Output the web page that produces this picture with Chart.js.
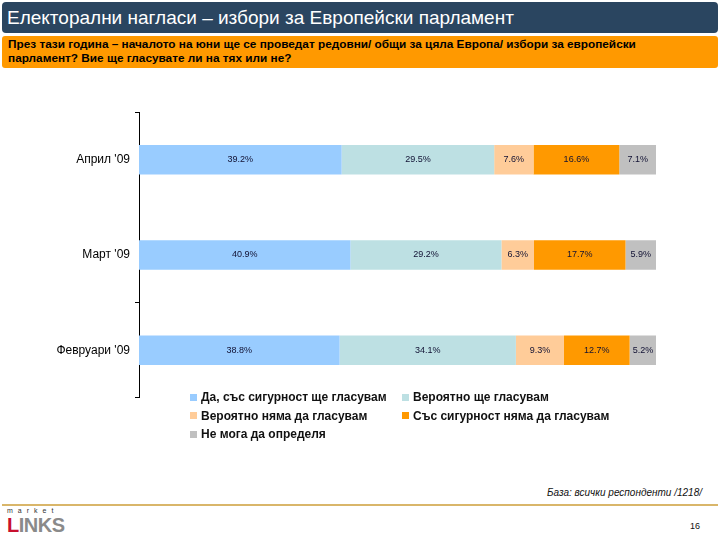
<!DOCTYPE html>
<html>
<head>
<meta charset="utf-8">
<script src="https://cdn.jsdelivr.net/npm/chart.js@4"></script>
<style>
  body { margin: 0; width: 720px; height: 540px; background: #fff; font-family: "Liberation Sans", Arial, sans-serif; position: relative; overflow: hidden; }
  .zaglavie { position: absolute; left: 2px; top: 2px; width: 716px; height: 31px; background: #2a4560; border-radius: 4px; color: #fff; font-size: 19px; line-height: 31px; padding-left: 5px; box-sizing: border-box; }
  .vapros { position: absolute; left: 2px; top: 36px; width: 716px; height: 32px; background: #ff9900; border-radius: 3px; color: #000; font-size: 11.8px; font-weight: bold; line-height: 13.5px; padding: 2px 6px; box-sizing: border-box; }
  #kutiaGrafika { position: absolute; left: 0; top: 100px; width: 700px; height: 310px; }
  #legenda { position: absolute; left: 190px; top: 390px; width: 480px; font-size: 12px; font-weight: bold; color: #111; }
  #legenda .red { position: absolute; display: flex; align-items: center; white-space: nowrap; }
  #legenda .kv { width: 7px; height: 7px; margin-right: 4px; }
  .baza { position: absolute; right: 18px; top: 487px; font-size: 10px; font-style: italic; color: #111; }
  .liniq { position: absolute; left: 2px; top: 504px; width: 716px; height: 2px; background: #d9b66a; }
  .stranica { position: absolute; left: 690px; top: 521px; font-size: 9px; color: #111; }
  .logo1 { position: absolute; left: 7px; top: 507px; font-size: 7px; letter-spacing: 5px; color: #333; }
  .logo2 { position: absolute; left: 7px; top: 515px; font-size: 20px; font-weight: bold; color: #8a8a8a; letter-spacing: -0.5px; line-height: 20px; }
  .logo2 span { color: #c8102e; }
</style>
</head>
<body>
<div class="zaglavie">Електорални нагласи – избори за Европейски парламент</div>
<div class="vapros">През тази година – началото на юни ще се проведат редовни/ общи за цяла Европа/ избори за европейски<br>парламент? Вие ще гласувате ли на тях или не?</div>

<div id="kutiaGrafika"><canvas id="grafika"></canvas></div>
<div id="legenda"></div>

<div class="baza">База: всички респонденти /1218/</div>
<div class="liniq"></div>
<div class="logo1">market</div>
<div class="logo2"><span>L</span>INKS</div>
<div class="stranica">16</div>

<script>
// Категории (отгоре надолу)
const kategorii = ["Април '09", "Март '09", "Февруари '09"];

// Стойности по серии (%)
const sigurnoDa = [39.2, 40.9, 38.8];
const veroyatnoDa = [29.5, 29.2, 34.1];
const veroyatnoNe = [7.6, 6.3, 9.3];
const sigurnoNe = [16.6, 17.7, 12.7];
const neMoga = [7.1, 5.9, 5.2];

const imenaSerii = [
    'Да, със сигурност ще гласувам',
    'Вероятно ще гласувам',
    'Вероятно няма да гласувам',
    'Със сигурност няма да гласувам',
    'Не мога да определя'
];
const cvetove = ['#99ccff', '#bde0e3', '#ffcc99', '#ff9900', '#c0c0c0'];
const stoinosti = [sigurnoDa, veroyatnoDa, veroyatnoNe, sigurnoNe, neMoga];

// Плъгин за надписите в средата на всеки сегмент
const nadpisi = {
    id: 'nadpisi',
    afterDatasetsDraw(chart) {
        const c = chart.ctx;
        c.save();
        c.font = '9px "Liberation Sans", Arial, sans-serif';
        c.fillStyle = '#111133';
        c.textAlign = 'center';
        c.textBaseline = 'middle';
        chart.data.datasets.forEach((ds, i) => {
            chart.getDatasetMeta(i).data.forEach((el, j) => {
                c.fillText(ds.data[j].toFixed(1) + '%', (el.x + el.base) / 2, el.y);
            });
        });
        c.restore();
    }
};

const grafika = new Chart(document.getElementById('grafika'), {
    type: 'bar',
    data: {
        labels: kategorii,
        datasets: stoinosti.map((d, i) => ({
            label: imenaSerii[i],
            data: d,
            backgroundColor: cvetove[i],
            borderWidth: 0,
            barPercentage: 0.62,
            categoryPercentage: 0.5
        }))
    },
    options: {
        indexAxis: 'y',
        responsive: true,
        maintainAspectRatio: false,
        animation: false,
        layout: { padding: { top: 12, right: 44, bottom: 8, left: 0 } },
        plugins: { legend: { display: false }, tooltip: { enabled: false } },
        scales: {
            x: { stacked: true, min: 0, max: 100, display: false },
            y: {
                stacked: true,
                afterFit(scale) { scale.width = 139; },
                border: { display: true, color: '#000', width: 1 },
                grid: {
                    drawOnChartArea: false,
                    tickLength: 4,
                    color: ctx => ctx.index === 1 ? 'rgba(0,0,0,0)' : '#000',
                    tickColor: ctx => ctx.index === 1 ? 'rgba(0,0,0,0)' : '#000'
                },
                ticks: {
                    color: '#000',
                    padding: 5,
                    font: { family: '"Liberation Sans", Arial, sans-serif', size: 12 }
                }
            }
        }
    },
    plugins: [nadpisi]
});

// Легенда в две колони
const legenda = document.getElementById('legenda');
const pozicii = [[0, 0], [212, 0], [0, 18.5], [212, 18.5], [0, 37]];
imenaSerii.forEach((ime, i) => {
    const red = document.createElement('div');
    red.className = 'red';
    red.style.left = pozicii[i][0] + 'px';
    red.style.top = pozicii[i][1] + 'px';
    red.innerHTML = '<span class="kv" style="background:' + cvetove[i] + '"></span>' + ime;
    legenda.appendChild(red);
});
</script>
</body>
</html>
